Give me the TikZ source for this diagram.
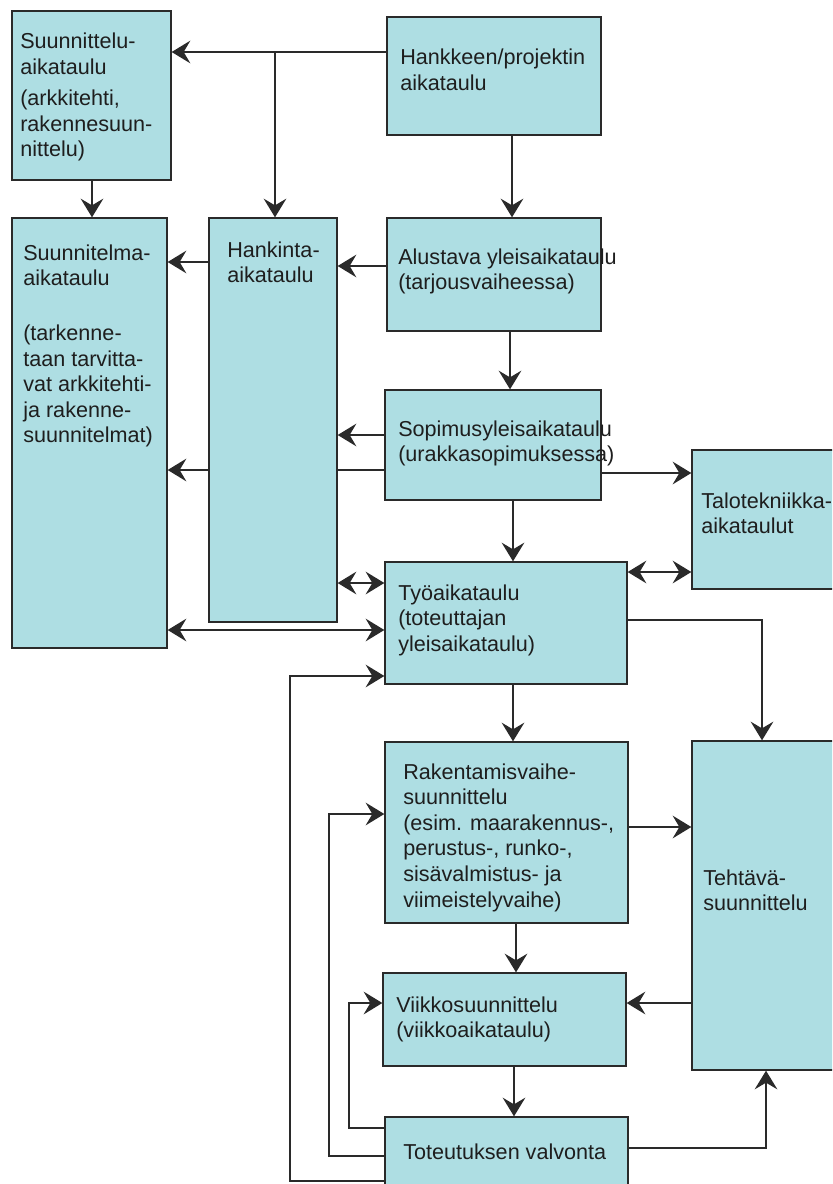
\documentclass[tikz,border=0pt]{standalone}
\usepackage{fontspec}
\setmainfont{Liberation Sans}
\usetikzlibrary{arrows.meta,fit,backgrounds}
\setlength{\parindent}{0pt}
\definecolor{boxfill}{HTML}{AEDEE3}
\definecolor{edge}{HTML}{2A2A2A}
\definecolor{ink}{HTML}{1E1E1E}
\newcommand{\tl}[1]{\parbox[t]{12cm}{\raggedright #1}}
\tikzset{
  box/.style={draw=edge, fill=boxfill, line width=1pt, inner sep=0pt, rectangle},
  txt/.style={inner sep=0pt, anchor=base west, text=ink, font=\fontsize{16.2}{19.2}\selectfont},
  tip/.tip={Stealth[length=14pt,width=17pt,inset=5pt]},
  arr/.style={draw=edge, line width=1.1pt, -tip},
  darr/.style={draw=edge, line width=1.1pt, tip-tip},
  ln/.style={draw=edge, line width=1.1pt}
}
\begin{document}
\begin{tikzpicture}[x=0.75pt,y=-0.75pt]
\useasboundingbox (0,0) rectangle (832,1184);
\clip (0,0) rectangle (832,1184);
% boxes
\node[box, fit={(12,11)(171,180)}] (S1) {};
\node[box, fit={(387,17)(601,135)}] (H) {};
\node[box, fit={(12,218)(167,648)}] (S2) {};
\node[box, fit={(209,218)(337,622)}] (HK) {};
\node[box, fit={(387,218)(601,331)}] (A) {};
\node[box, fit={(385,390)(601,500)}] (SP) {};
\node[box, fit={(692,450)(845,589)}] (T) {};
\node[box, fit={(385,562)(627,684)}] (TY) {};
\node[box, fit={(385,742)(628,923)}] (R) {};
\node[box, fit={(692,741)(845,1070)}] (TE) {};
\node[box, fit={(383,973)(626,1066)}] (V) {};
\node[box, fit={(385,1117)(628,1196)}] (TV) {};
% texts
\node[txt] (S1t) at (20,49) {\tl{Suunnittelu-\\aikataulu\\[4pt](arkkitehti,\\rakennesuun-\\nittelu)}};
\node[txt] (Ht) at (400,65) {\tl{Hankkeen/projektin\\aikataulu}};
\node[txt] (S2t) at (23,260) {\tl{Suunnitelma-\\aikataulu\\[22pt](tarkenne-\\taan tarvitta-\\vat arkkitehti-\\ja rakenne-\\suunnitelmat)}};
\node[txt] (HKt) at (227,257) {\tl{Hankinta-\\aikataulu}};
\node[txt] (At) at (398,264) {\tl{Alustava yleisaikataulu\\(tarjousvaiheessa)}};
\node[txt] (SPt) at (398,436) {\tl{Sopimusyleisaikataulu\\(urakkasopimuksessa)}};
\node[txt] (Tt) at (701,508) {\tl{Talotekniikka-\\aikataulut}};
\node[txt] (TYt) at (398,600) {\tl{Työaikataulu\\(toteuttajan\\yleisaikataulu)}};
\node[txt] (Rt) at (403,779) {\tl{Rakentamisvaihe-\\suunnittelu\\(esim. maarakennus-,\\perustus-, runko-,\\sisävalmistus- ja\\viimeistelyvaihe)}};
\node[txt] (TEt) at (703,885) {\tl{Tehtävä-\\suunnittelu}};
\node[txt] (Vt) at (396,1012) {\tl{Viikkosuunnittelu\\(viikkoaikataulu)}};
\node[txt] (TVt) at (403,1159) {\tl{Toteutuksen valvonta}};
% connectors
\coordinate (j1) at (275,52);
\draw[arr] (H.west |- j1) -- (S1.east |- j1);
\draw[arr] (j1) -- (j1 |- HK.north);
\draw[arr] (S1.south -| 92,0) -- (S2.north -| 92,0);
\draw[arr] (H.south -| 512,0) -- (A.north -| 512,0);
\draw[arr] (A.west |- 0,266) -- (HK.east |- 0,266);
\draw[arr] (HK.west |- 0,262) -- (S2.east |- 0,262);
\draw[arr] (A.south -| 510,0) -- (SP.north -| 510,0);
\draw[arr] (SP.west |- 0,435) -- (HK.east |- 0,435);
\begin{scope}[on background layer]
\draw[arr] (SP.west |- 0,470) -- (S2.east |- 0,470);
\end{scope}
\draw[arr] (SP.east |- 0,473) -- (T.west |- 0,473);
\draw[arr] (SP.south -| 513,0) -- (TY.north -| 513,0);
\draw[darr] (HK.east |- 0,583) -- (TY.west |- 0,583);
\draw[darr] (S2.east |- 0,630) -- (TY.west |- 0,630);
\draw[darr] (TY.east |- 0,572) -- (T.west |- 0,572);
\draw[arr] (TY.east |- 0,620) -| (TE.north -| 762,0);
\draw[arr] (TY.south -| 513,0) -- (R.north -| 513,0);
\draw[arr] (TV.west |- 0,1181) -| (290,676) -- (TY.west |- 0,676);
\draw[arr] (R.east |- 0,827) -- (TE.west |- 0,827);
\draw[arr] (R.south -| 516,0) -- (V.north -| 516,0);
\draw[arr] (TE.west |- 0,1003) -- (V.east |- 0,1003);
\draw[arr] (V.south -| 514,0) -- (TV.north -| 514,0);
\draw[arr] (TV.west |- 0,1156) -| (329,814) -- (R.west |- 0,814);
\draw[arr] (TV.west |- 0,1128) -| (349,1003) -- (V.west |- 0,1003);
\draw[arr] (TV.east |- 0,1148) -| (TE.south -| 766,0);
\end{tikzpicture}
\end{document}
